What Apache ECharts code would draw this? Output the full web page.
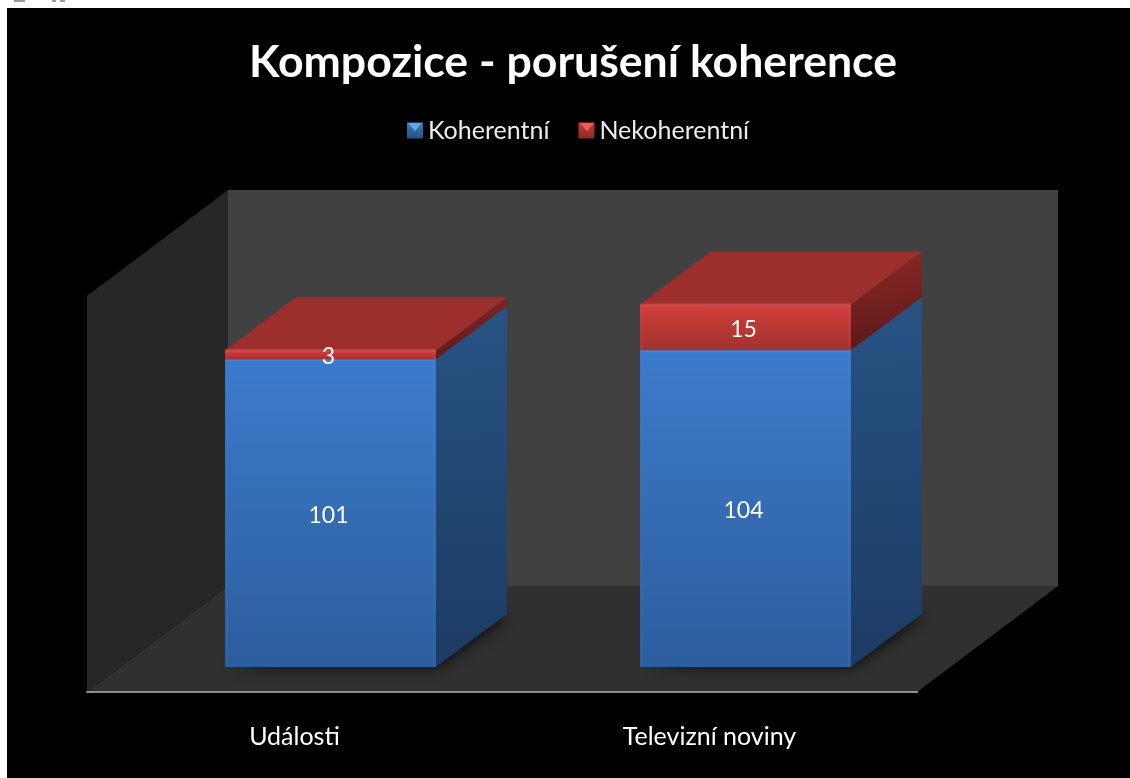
<!DOCTYPE html>
<html>
<head>
<meta charset="utf-8">
<style>
html,body{margin:0;padding:0;background:#fff;width:1130px;height:778px;overflow:hidden}
#bg{position:absolute;left:7px;top:8px;width:1123px;height:770px;background:#000}
#chart{position:absolute;left:0;top:0;width:1130px;height:778px}
.bit{position:absolute;top:0;height:2px;background:#9a9a9a}
</style>
<script src="https://cdn.jsdelivr.net/npm/echarts@6/dist/echarts.min.js"></script>
</head>
<body>
<div class="bit" style="left:14px;width:11px"></div>
<div class="bit" style="left:52px;width:4px"></div>
<div class="bit" style="left:60px;width:5px"></div>
<div id="bg"></div>
<div id="chart"></div>
<script>
var categories = ['Události', 'Televizní noviny'];
var koherentni = [101, 104];
var nekoherentni = [3, 15];
var titleText = 'Kompozice - porušení koherence';
var fontName = 'Lato, "Open Sans", sans-serif';

var WALL_DX = 141, WALL_DY = -106;
var SHIFT_X = 36, SHIFT_Y = -25;
var DEPTH_X = 71, DEPTH_Y = -53;
var BAR_RATIO = 0.508;

function grad(x, y, x2, y2, c0, c1) {
  return new echarts.graphic.LinearGradient(x, y, x2, y2, [{offset: 0, color: c0}, {offset: 1, color: c1}]);
}
function poly(pts, fill, extra) {
  return {type: 'polygon', shape: {points: pts}, style: Object.assign({fill: fill}, extra || {})};
}

var palette = {
  blue: {front0: '#3c7bcc', front1: '#2c5d9c', side0: '#275383', side1: '#1c3b64', top: '#2f5f9c', edge: '#4a8cdc'},
  red:  {front0: '#d23e3b', front1: '#a03230', side0: '#8c2a28', side1: '#5c1918', top: '#9c2f2c', edge: '#e0504c'}
};

function wallItem(params) {
  var c = params.coordSys;
  var l = c.x, r = c.x + c.width, t = c.y, b = c.y + c.height;
  return {type: 'group', children: [
    poly([[l, t], [l + WALL_DX, t + WALL_DY], [l + WALL_DX, b + WALL_DY], [l, b]], '#272727'),
    poly([[l + WALL_DX, t + WALL_DY], [r + WALL_DX, t + WALL_DY], [r + WALL_DX, b + WALL_DY], [l + WALL_DX, b + WALL_DY]], '#414141'),
    poly([[l, b], [r, b], [r + WALL_DX, b + WALL_DY], [l + WALL_DX, b + WALL_DY]], '#303030')
  ]};
}

function barItem(values, bases, pal, withShadow) {
  return function (params, api) {
    var i = api.value(0);
    var base = bases[i], val = values[i];
    var p0 = api.coord([i, base]), p1 = api.coord([i, base + val]);
    var w = api.size([1, 0])[0] * BAR_RATIO;
    var xl = p0[0] - w / 2 + SHIFT_X, xr = xl + w;
    var yb = p0[1] + SHIFT_Y, yt = p1[1] + SHIFT_Y;
    var children = [];
    if (withShadow) {
      children.push(poly([[xl + 2, yb - 2], [xr - 1, yb - 2], [xr + DEPTH_X - 2, yb + DEPTH_Y + 1], [xr, yb + DEPTH_Y]],
        '#000', {shadowBlur: 15, shadowColor: 'rgba(0,0,0,0.95)', shadowOffsetX: 3, shadowOffsetY: 0}));
    }
    children.push(poly([[xr, yb], [xr + DEPTH_X, yb + DEPTH_Y], [xr + DEPTH_X, yt + DEPTH_Y], [xr, yt]],
      grad(0, 0, 0.25, 1, pal.side0, pal.side1)));
    children.push({type: 'rect', shape: {x: xl, y: yt, width: w, height: yb - yt, r: 1},
      style: {fill: grad(0, 0, 0, 1, pal.front0, pal.front1)}});
    children.push({type: 'rect', shape: {x: xr - 3, y: yt, width: 3, height: yb - yt},
      style: {fill: pal.edge, opacity: 0.18}});
    children.push({type: 'rect', shape: {x: xl, y: yt, width: 3, height: yb - yt},
      style: {fill: pal.edge, opacity: 0.12}});
    children.push(poly([[xl, yt], [xr, yt], [xr + DEPTH_X, yt + DEPTH_Y], [xl + DEPTH_X, yt + DEPTH_Y]], pal.top));
    children.push({type: 'rect', shape: {x: xl, y: yt - 1, width: w, height: 3},
      style: {fill: pal.edge, opacity: 0.55}});
    children.push({type: 'text', z2: 10, style: {
      x: (xl + xr) / 2 - 2, y: (yt + yb) / 2 + 2, text: String(val), fill: '#ffffff',
      font: '23px ' + fontName, textAlign: 'center', textVerticalAlign: 'middle'
    }});
    return {type: 'group', children: children};
  };
}

var zeros = koherentni.map(function () { return 0; });
var indexRows = categories.map(function (c, i) { return [i]; });

var chart = echarts.init(document.getElementById('chart'), null, {renderer: 'canvas'});
chart.setOption({
  backgroundColor: 'transparent',
  animation: false,
  title: {
    text: titleText, left: 568, top: 35, textAlign: 'center',
    textStyle: {color: '#ffffff', fontFamily: fontName, fontWeight: 'bold', fontSize: 44.6}
  },
  legend: {
    left: 402, top: 113, itemWidth: 16, itemHeight: 16, itemGap: 29, icon: 'rect',
    data: [
      {name: 'Koherentní', itemStyle: {color: grad(0, 0, 0, 1, '#3a76c4', '#27507f')}},
      {name: 'Nekoherentní', itemStyle: {color: grad(0, 0, 0, 1, '#c93a37', '#8a2a28')}}
    ],
    textStyle: {color: '#ececec', fontFamily: fontName, fontSize: 25}
  },
  graphic: [
    {type: 'polygon', z: 10, shape: {points: [[408, 123], [422, 123], [415, 131]]}, style: {fill: '#62a4ea'}},
    {type: 'polygon', z: 10, shape: {points: [[580, 123], [594, 123], [587, 131]]}, style: {fill: '#e8605a'}}
  ],
  grid: {left: 87, top: 296, width: 830, height: 396},
  xAxis: {
    type: 'category', data: categories,
    axisLine: {show: true, lineStyle: {color: '#8e8e8e', width: 2}},
    axisTick: {show: false},
    axisLabel: {color: '#ffffff', fontFamily: fontName, fontSize: 25, margin: 32}
  },
  yAxis: {type: 'value', min: 0, max: 130, show: false, splitLine: {show: false}},
  series: [
    {type: 'custom', name: 'walls', silent: true, z: 0, coordinateSystem: 'cartesian2d',
      data: [[0]], encode: {x: 0}, renderItem: wallItem},
    {type: 'custom', name: 'Koherentní', z: 2, coordinateSystem: 'cartesian2d', itemStyle: {color: '#3f7fd2'},
      data: indexRows, encode: {x: 0}, renderItem: barItem(koherentni, zeros, palette.blue, true)},
    {type: 'custom', name: 'Nekoherentní', z: 3, coordinateSystem: 'cartesian2d', itemStyle: {color: '#d63f3c'},
      data: indexRows, encode: {x: 0}, renderItem: barItem(nekoherentni, koherentni, palette.red, false)}
  ]
});
</script>
</body>
</html>
